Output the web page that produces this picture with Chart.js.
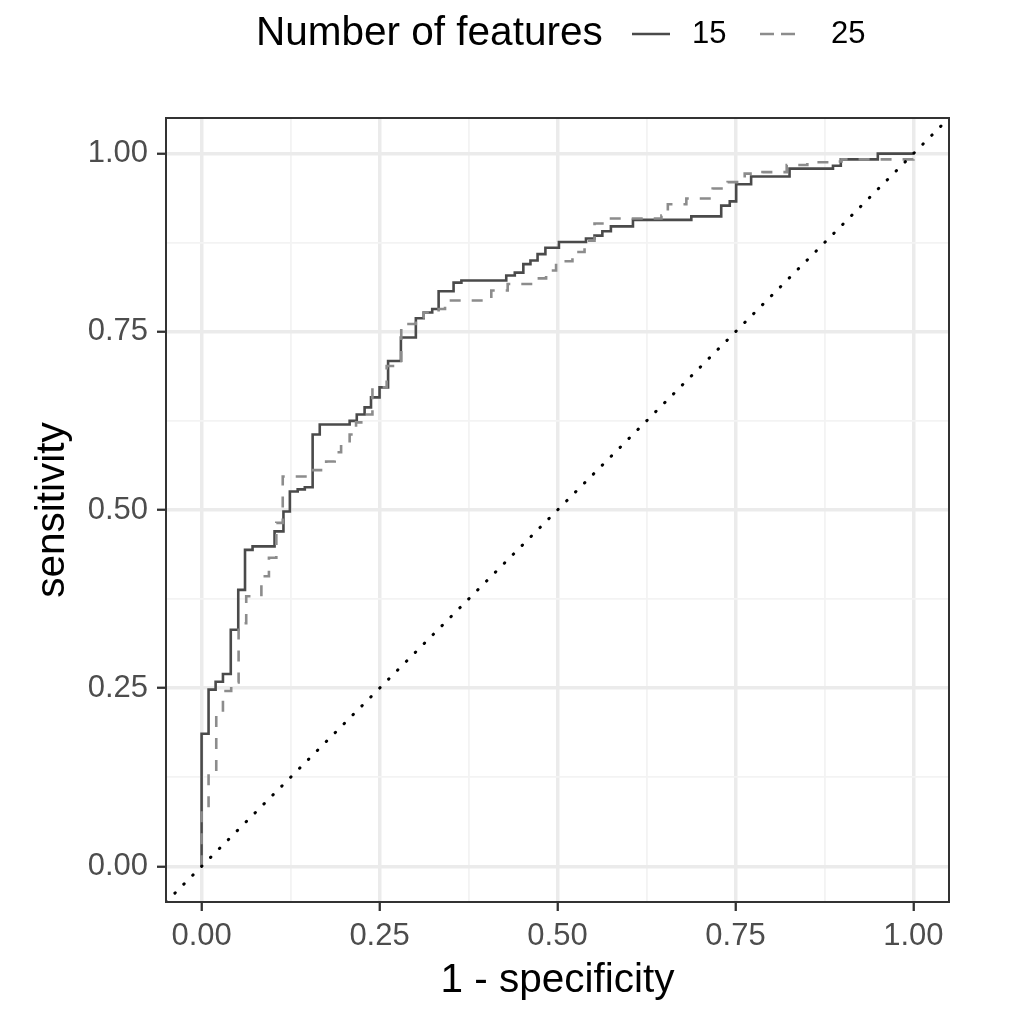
<!DOCTYPE html>
<html>
<head>
<meta charset="utf-8">
<script src="https://cdn.jsdelivr.net/npm/chart.js@4.4.1/dist/chart.umd.min.js"></script>
<style>
  html, body { margin: 0; padding: 0; background: #fff; }
  #wrap { width: 1025px; height: 1025px; }
</style>
</head>
<body>
<div id="wrap"><canvas id="roc" width="1025" height="1025"></canvas></div>
<script>
// ROC step points (1 - specificity, sensitivity)
var fpr15 = [0, 0, 0.0098, 0.0197, 0.030, 0.041, 0.0515, 0.061, 0.0716, 0.1025,
    0.115, 0.124, 0.135, 0.145, 0.156, 0.166, 0.208, 0.218, 0.229, 0.238,
    0.250, 0.262, 0.280, 0.301, 0.312, 0.324, 0.333, 0.354, 0.365, 0.428,
    0.440, 0.452, 0.462, 0.472, 0.483, 0.502, 0.540, 0.552, 0.563, 0.575,
    0.606, 0.688, 0.730, 0.742, 0.751, 0.772, 0.826, 0.887, 0.898, 0.950, 1.0];
var tpr15 = [0, 0.186, 0.248, 0.259, 0.270, 0.332, 0.388, 0.444, 0.449, 0.470,
    0.498, 0.526, 0.529, 0.532, 0.606, 0.620, 0.625, 0.634, 0.644, 0.658,
    0.672, 0.709, 0.742, 0.769, 0.777, 0.782, 0.807, 0.819, 0.822, 0.829,
    0.833, 0.845, 0.850, 0.859, 0.868, 0.876, 0.881, 0.885, 0.891, 0.898,
    0.907, 0.912, 0.927, 0.933, 0.957, 0.968, 0.979, 0.983, 0.992, 1.0, 1.0];

var fpr25 = [0, 0, 0.0098, 0.0206, 0.030, 0.0416, 0.052, 0.0627, 0.084, 0.0946,
    0.105, 0.114, 0.156, 0.175, 0.187, 0.196, 0.208, 0.217, 0.229, 0.240,
    0.260, 0.2805, 0.301, 0.312, 0.333, 0.342, 0.407, 0.430, 0.471, 0.484,
    0.498, 0.521, 0.538, 0.552, 0.573, 0.646, 0.655, 0.681, 0.718, 0.739,
    0.763, 0.788, 0.822, 0.851, 0.885, 0.899, 1.0, 1.0];
var tpr25 = [0, 0.081, 0.132, 0.212, 0.246, 0.258, 0.341, 0.379, 0.407, 0.433,
    0.482, 0.547, 0.556, 0.568, 0.581, 0.594, 0.606, 0.623, 0.634, 0.672,
    0.702, 0.761, 0.770, 0.777, 0.782, 0.794, 0.808, 0.817, 0.825, 0.836,
    0.849, 0.862, 0.878, 0.902, 0.909, 0.913, 0.929, 0.937, 0.951, 0.960,
    0.972, 0.974, 0.984, 0.988, 0.989, 0.992, 0.993, 1.0];

var diagX = [-0.05, 1.05];
var diagY = [-0.05, 1.05];

var seriesNames = ['15', '25'];
var legendTitle = 'Number of features';
var gridTicks = [0, 0.125, 0.25, 0.375, 0.5, 0.625, 0.75, 0.875, 1];
var majorTicks = [0, 0.25, 0.5, 0.75, 1];
var tickLabels = ['0.00', '0.25', '0.50', '0.75', '1.00'];

var darkCol = '#4a4a4a';
var greyCol = '#8c8c8c';

Chart.defaults.font.family = "'Liberation Sans', Arial, sans-serif";

function toPoints(xs, ys) {
    let pts = [];
    for (let i = 0; i < xs.length; i++) {
        pts.push({x: xs[i], y: ys[i]});
    }
    return pts;
}

function isMajor(v) {
    return majorTicks.some(function(m) { return Math.abs(m - v) < 1e-9; });
}

function labelFor(v) {
    for (let i = 0; i < majorTicks.length; i++) {
        if (Math.abs(majorTicks[i] - v) < 1e-9) return tickLabels[i];
    }
    return '';
}

function axisOpts(title, isX) {
    return {
        type: 'linear',
        min: -0.05,
        max: 1.05,
        afterBuildTicks: function(scale) {
            scale.ticks = gridTicks.map(function(v) { return {value: v}; });
        },
        afterFit: function(scale) {
            if (isX) scale.height = 123; else scale.width = 166;
        },
        ticks: {
            autoSkip: false,
            maxRotation: 0,
            padding: isX ? 7 : 9,
            color: '#4d4d4d',
            font: {size: 31},
            callback: function(v) { return labelFor(v); }
        },
        grid: {
            drawTicks: true,
            tickLength: 9,
            color: function(c) { return isMajor(c.tick.value) ? '#ebebeb' : '#f3f3f3'; },
            lineWidth: function(c) { return isMajor(c.tick.value) ? 3.5 : 1.8; },
            tickColor: function(c) { return isMajor(c.tick.value) ? '#333333' : 'rgba(0,0,0,0)'; },
            tickWidth: 2.3
        },
        border: {display: false},
        title: {
            display: true,
            text: title,
            color: '#000',
            font: {size: 40.5},
            padding: isX ? {top: 0, bottom: 20} : {top: 29, bottom: 0}
        }
    };
}

// panel frame + inline legend like the original
var frameLegend = {
    id: 'frameLegend',
    afterDraw: function(chart) {
        const ctx = chart.ctx;
        const a = chart.chartArea;
        ctx.save();
        ctx.strokeStyle = '#333333';
        ctx.lineWidth = 2;
        ctx.setLineDash([]);
        ctx.strokeRect(a.left, a.top, a.right - a.left, a.bottom - a.top);

        const ly = 34;
        ctx.fillStyle = '#000';
        ctx.textBaseline = 'middle';
        ctx.textAlign = 'left';
        ctx.font = "40.5px 'Liberation Sans', Arial, sans-serif";
        ctx.fillText(legendTitle, 256, ly);

        ctx.lineWidth = 2.6;
        ctx.strokeStyle = darkCol;
        ctx.beginPath(); ctx.moveTo(632, ly); ctx.lineTo(670, ly); ctx.stroke();
        ctx.strokeStyle = greyCol;
        ctx.setLineDash([14, 7]);
        ctx.beginPath(); ctx.moveTo(760, ly); ctx.lineTo(797, ly); ctx.stroke();
        ctx.setLineDash([]);

        ctx.font = "31px 'Liberation Sans', Arial, sans-serif";
        ctx.fillText(seriesNames[0], 692, ly);
        ctx.fillText(seriesNames[1], 831, ly);
        ctx.restore();
    }
};

new Chart(document.getElementById('roc').getContext('2d'), {
    type: 'line',
    data: {
        datasets: [{
            label: seriesNames[0],
            data: toPoints(fpr15, tpr15),
            borderColor: darkCol,
            borderWidth: 2.6,
            stepped: 'before',
            pointRadius: 0,
            fill: false,
            order: 2
        }, {
            label: seriesNames[1],
            data: toPoints(fpr25, tpr25),
            borderColor: greyCol,
            borderWidth: 2.6,
            borderDash: [11, 11],
            stepped: 'before',
            pointRadius: 0,
            fill: false,
            order: 1
        }, {
            label: 'diagonal',
            data: toPoints(diagX, diagY),
            borderColor: '#000',
            borderWidth: 3,
            borderDash: [0.5, 12.1],
            borderCapStyle: 'round',
            pointRadius: 0,
            fill: false,
            order: 0
        }]
    },
    options: {
        responsive: false,
        animation: false,
        layout: {padding: {top: 118, right: 76, left: 0, bottom: 0}},
        plugins: {
            legend: {display: false},
            tooltip: {enabled: false}
        },
        scales: {
            x: axisOpts('1 - specificity', true),
            y: axisOpts('sensitivity', false)
        }
    },
    plugins: [frameLegend]
});
</script>
</body>
</html>
